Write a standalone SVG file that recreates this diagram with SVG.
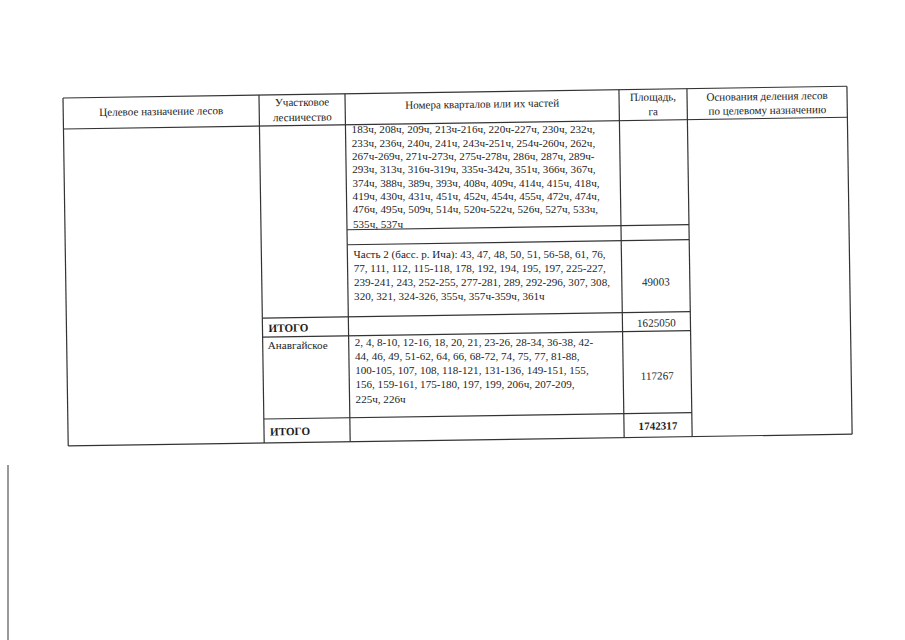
<svg xmlns="http://www.w3.org/2000/svg" width="905" height="640" viewBox="0 0 905 640">
<style>
text{font-family:"Liberation Serif","Times New Roman",serif;font-size:11.1px;fill:#1e1e1e}
.c{text-anchor:middle}
.b{font-weight:bold}
.g line{stroke:#333333;stroke-width:1.2}
</style>
<rect x="0" y="0" width="905" height="640" fill="#ffffff"/>
<line x1="8" y1="465" x2="8" y2="640" stroke="#555" stroke-width="1.2"/>
<g transform="rotate(-0.86 63 98)">
<g id="grid" class="g">
<line x1="63" y1="98" x2="847" y2="98"/>
<line x1="63" y1="129" x2="847" y2="129"/>
<line x1="345" y1="234" x2="687" y2="234"/>
<line x1="345" y1="249" x2="687" y2="249"/>
<line x1="259" y1="321" x2="687" y2="321"/>
<line x1="259" y1="340" x2="687" y2="340"/>
<line x1="259" y1="422" x2="687" y2="422"/>
<line x1="63" y1="446" x2="847" y2="446"/>
<line x1="63" y1="98" x2="63" y2="446"/>
<line x1="259" y1="98" x2="259" y2="446"/>
<line x1="345" y1="98" x2="345" y2="446"/>
<line x1="619" y1="98" x2="619" y2="446"/>
<line x1="687" y1="98" x2="687" y2="446"/>
<line x1="847" y1="98" x2="847" y2="446"/>
</g>
<g id="header">
<text class="c" x="161" y="116.5">Целевое назначение лесов</text>
<text class="c" x="302" y="109.5">Участковое</text>
<text class="c" x="302" y="124.5">лесничество</text>
<text class="c" x="482" y="114">Номера кварталов или их частей</text>
<text class="c" x="653" y="109.5">Площадь,</text>
<text class="c" x="653" y="124">га</text>
<text class="c" x="767" y="110.5">Основания деления лесов</text>
<text class="c" x="767" y="124.5">по целевому назначению</text>
</g>
<g id="areas">
<text class="c" x="653" y="294.5">49003</text>
<text class="b" x="265" y="335">ИТОГО</text>
<text class="c" x="653" y="335.5">1625050</text>
<text class="c" x="653" y="388.5">117267</text>
<text class="b" x="265" y="438.5">ИТОГО</text>
<text class="c b" x="653" y="438.5">1742317</text>
</g>
</g>
<g id="block1">
<text x="351.6" y="133.3">183ч, 208ч, 209ч, 213ч-216ч, 220ч-227ч, 230ч, 232ч,</text>
<text x="351.8" y="146.6">233ч, 236ч, 240ч, 241ч, 243ч-251ч, 254ч-260ч, 262ч,</text>
<text x="352" y="159.9">267ч-269ч, 271ч-273ч, 275ч-278ч, 286ч, 287ч, 289ч-</text>
<text x="352.2" y="173.2">293ч, 313ч, 316ч-319ч, 335ч-342ч, 351ч, 366ч, 367ч,</text>
<text x="352.4" y="186.5">374ч, 388ч, 389ч, 393ч, 408ч, 409ч, 414ч, 415ч, 418ч,</text>
<text x="352.6" y="199.8">419ч, 430ч, 431ч, 451ч, 452ч, 454ч, 455ч, 472ч, 474ч,</text>
<text x="352.8" y="213.1">476ч, 495ч, 509ч, 514ч, 520ч-522ч, 526ч, 527ч, 533ч,</text>
<text x="353" y="227.5">535ч, 537ч</text>
</g>
<g id="part2">
<text x="353.5" y="258.1">Часть 2 (басс. р. Ича): 43, 47, 48, 50, 51, 56-58, 61, 76,</text>
<text x="353.7" y="271.9">77, 111, 112, 115-118, 178, 192, 194, 195, 197, 225-227,</text>
<text x="353.9" y="285.7">239-241, 243, 252-255, 277-281, 289, 292-296, 307, 308,</text>
<text x="354.1" y="300">320, 321, 324-326, 355ч, 357ч-359ч, 361ч</text>
</g>
<g id="anavgai">
<text x="267.8" y="349">Анавгайское</text>
<text x="354.8" y="346.4">2, 4, 8-10, 12-16, 18, 20, 21, 23-26, 28-34, 36-38, 42-</text>
<text x="355" y="360.2">44, 46, 49, 51-62, 64, 66, 68-72, 74, 75, 77, 81-88,</text>
<text x="355.2" y="374">100-105, 107, 108, 118-121, 131-136, 149-151, 155,</text>
<text x="355.4" y="387.8">156, 159-161, 175-180, 197, 199, 206ч, 207-209,</text>
<text x="355.6" y="403">225ч, 226ч</text>
</g>
</svg>
